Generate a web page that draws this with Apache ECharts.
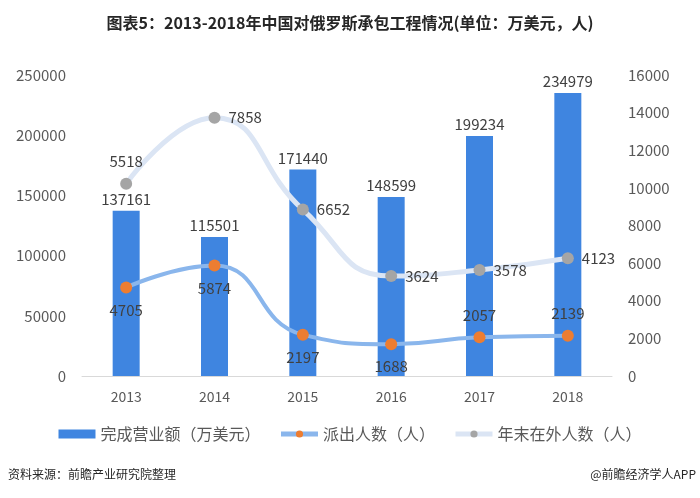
<!DOCTYPE html>
<html>
<head>
<meta charset="utf-8">
<script src="https://cdn.jsdelivr.net/npm/echarts@6/dist/echarts.min.js"></script>
<style>
  html, body { margin: 0; padding: 0; background: #fff; }
  #chart { width: 700px; height: 498px; }
</style>
</head>
<body>
<div id="chart"></div>
<script>
// 数据
const years = ["2013", "2014", "2015", "2016", "2017", "2018"];
const revenue = [137161, 115501, 171440, 148599, 199234, 234979];
const dispatched = [4705, 5874, 2197, 1688, 2057, 2139];
const abroad = [5518, 7858, 6652, 3624, 3578, 4123];

// 标签位置
const dispatchedPos = ["bottom", "bottom", "bottom", "bottom", "top", "top"];
const abroadPos = ["top", "right", "right", "right", "right", "right"];

const labelFont = { fontFamily: "Noto Sans CJK SC", fontSize: 15, color: "#404040" };
const axisFont = { fontFamily: "Noto Sans CJK SC", fontSize: 15, color: "#595959", margin: 16, formatter: v => String(v) };

const chart = echarts.init(document.getElementById("chart"));
chart.setOption({
  animation: false,
  title: {
    text: "图表5：2013-2018年中国对俄罗斯承包工程情况(单位：万美元，人)",
    left: "center",
    top: 10,
    textStyle: { fontFamily: "Noto Sans CJK SC", fontSize: 16, fontWeight: "bold", color: "#262626" }
  },
  grid: { left: 82, right: 88, top: 75, bottom: 122 },
  legend: {
    bottom: 51,
    left: "center",
    itemGap: 18,
    itemWidth: 37,
    itemHeight: 9,
    textStyle: { fontFamily: "Noto Sans CJK SC", fontSize: 16, color: "#595959" },
    data: [
      { name: "完成营业额（万美元）", icon: "rect" },
      { name: "派出人数（人）", lineStyle: { width: 5 } },
      { name: "年末在外人数（人）", lineStyle: { width: 5 } }
    ]
  },
  xAxis: {
    type: "category",
    data: years,
    axisLine: { lineStyle: { color: "#d9d9d9", width: 1 } },
    axisTick: { show: false },
    axisLabel: { fontFamily: "Noto Sans CJK SC", fontSize: 14, color: "#595959", margin: 14 }
  },
  yAxis: [
    {
      type: "value",
      min: 0, max: 250000, interval: 50000,
      splitLine: { show: false },
      axisLine: { show: false },
      axisTick: { show: false },
      axisLabel: axisFont
    },
    {
      type: "value",
      min: 0, max: 16000, interval: 2000,
      splitLine: { show: false },
      axisLine: { show: false },
      axisTick: { show: false },
      axisLabel: axisFont
    }
  ],
  series: [
    {
      name: "完成营业额（万美元）",
      type: "bar",
      data: revenue,
      barWidth: 27,
      itemStyle: { color: "#3f85e0" },
      label: Object.assign({ show: true, position: "top", distance: 4 }, labelFont)
    },
    {
      name: "派出人数（人）",
      type: "line",
      yAxisIndex: 1,
      stack: "people",
      smooth: true,
      data: dispatched.map((v, i) => ({
        value: v,
        label: { position: dispatchedPos[i], distance: 9 }
      })),
      symbol: "circle",
      symbolSize: 12,
      lineStyle: { color: "#8ab6ec", width: 4 },
      itemStyle: { color: "#ed7d31" },
      label: Object.assign({ show: true }, labelFont),
      z: 4
    },
    {
      name: "年末在外人数（人）",
      type: "line",
      yAxisIndex: 1,
      stack: "people",
      smooth: true,
      data: abroad.map((v, i) => ({
        value: v,
        label: { position: abroadPos[i], distance: abroadPos[i] === "top" ? 9 : 8 }
      })),
      symbol: "circle",
      symbolSize: 12,
      lineStyle: { color: "#dbe5f4", width: 5 },
      itemStyle: { color: "#a5a5a5" },
      label: Object.assign({ show: true }, labelFont),
      z: 3
    }
  ],
  graphic: [
    {
      type: "text", left: 8, top: 468,
      style: { text: "资料来源：前瞻产业研究院整理", fontFamily: "Noto Sans CJK SC", fontSize: 12, fill: "#262626" }
    },
    {
      type: "text", right: 4, top: 468,
      style: { text: "@前瞻经济学人APP", fontFamily: "Noto Sans CJK SC", fontSize: 12, fill: "#262626" }
    }
  ]
});
</script>
</body>
</html>
